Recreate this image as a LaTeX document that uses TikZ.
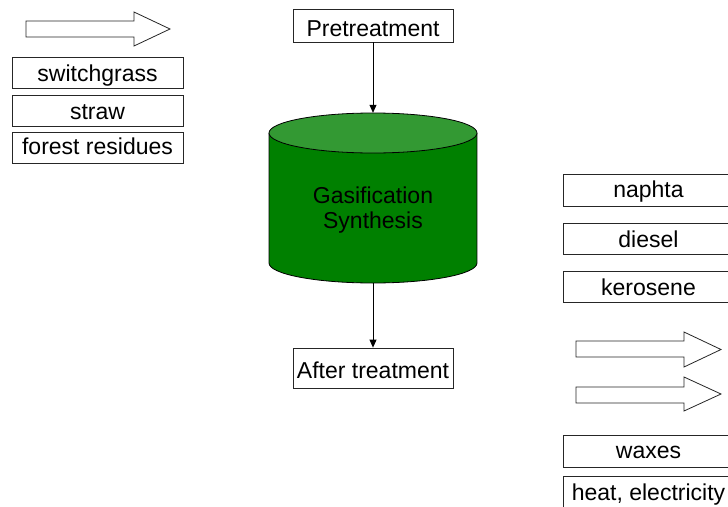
\documentclass[tikz,border=0pt]{standalone}
\usepackage{fontspec}
\setmainfont{Liberation Sans}
\usetikzlibrary{arrows.meta}
\definecolor{cylbody}{RGB}{0,128,0}
\definecolor{cyltop}{RGB}{51,153,51}
\begin{document}
\begin{tikzpicture}[x=1pt,y=-1pt, font=\fontsize{23}{25}\selectfont,
  box/.style={draw=black!85, line width=0.8pt, minimum width=171pt, minimum height=31pt, inner sep=0pt, anchor=center},
  bl/.style 2 args={text height=#1, text depth=#2},
  blockarrow/.style={draw=black!85, line width=0.8pt, fill=white},
  conn/.style={-{Triangle[length=8pt,width=7pt]}, line width=0.8pt}]
\useasboundingbox (0,0) rectangle (728,506);
\clip (0,0) rectangle (728,506);
% left input arrow
\draw[blockarrow] (26,21) -- (134,21) -- (134,12) -- (170,29) -- (134,46) -- (134,37) -- (26,37) -- cycle;
% feedstocks
\node[box, bl={24.5pt}{6.5pt}] (sg) at (97.5,72.5) {switchgrass};
\node[box, bl={24pt}{7pt}] (st) at (97.5,110.5) {straw};
\node[box, bl={22pt}{9pt}] (fr) at (97.5,147.5) {forest residues};
% pretreatment
\node[box, minimum width=160pt, minimum height=33pt, bl={27pt}{6pt}] (pre) at (373,25.5) {Pretreatment};
% cylinder
\node[minimum width=208pt, minimum height=170pt, inner sep=0pt] (gas) at (373,198) {};
\fill[cylbody] (269,133) rectangle (477,263);
\fill[cylbody] (373,263) ellipse[x radius=104, y radius=20];
\draw[line width=0.8pt] (269,133) -- (269,263) arc[start angle=180, end angle=0, x radius=104, y radius=20] -- (477,133);
\draw[line width=0.8pt, fill=cyltop] (373,133) ellipse[x radius=104, y radius=20];
\node[align=center, inner sep=0pt] (gtxt) at (373,210.5) {Gasification\\Synthesis};
\draw[conn] (pre) -- (gas);
% after treatment
\node[box, minimum width=160pt, minimum height=40pt, bl={30pt}{10pt}] (aft) at (373,368) {After treatment};
\draw[conn] (gas) -- (aft);
% products
\node[box, minimum height=32pt, bl={23pt}{9pt}] (nap) at (648.5,190) {naphta};
\node[box, bl={24pt}{7pt}] (die) at (648.5,238.5) {diesel};
\node[box, bl={24pt}{7pt}] (ker) at (648.5,286.5) {kerosene};
\draw[blockarrow] (576,341) -- (684,341) -- (684,332) -- (721,349.5) -- (684,367) -- (684,357) -- (576,357) -- cycle;
\draw[blockarrow] (576,387) -- (684,387) -- (684,377) -- (721,394) -- (684,411) -- (684,403) -- (576,403) -- cycle;
\node[box, minimum height=32pt, bl={23pt}{9pt}] (wax) at (648.5,451) {waxes};
\node[box, minimum height=32pt, bl={24pt}{8pt}] (heat) at (648.5,492) {heat, electricity};
\end{tikzpicture}
\end{document}
